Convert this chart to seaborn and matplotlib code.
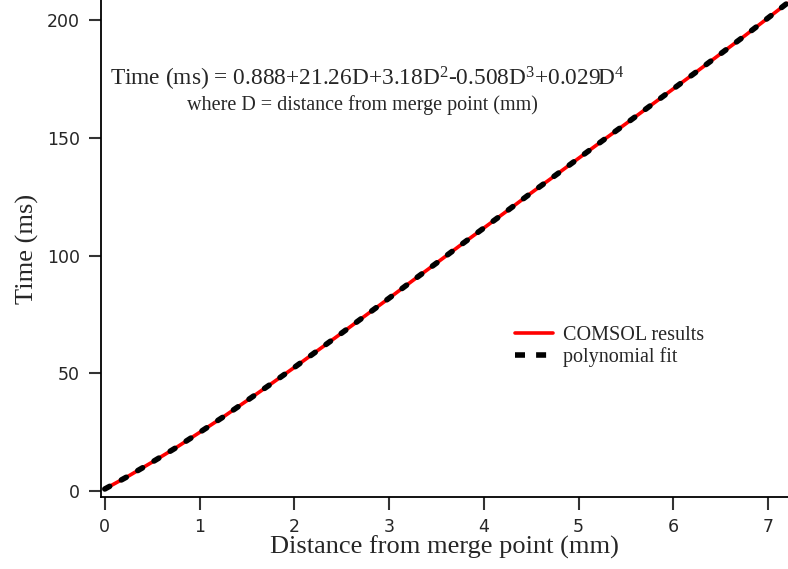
import matplotlib
matplotlib.use("Agg")
import matplotlib.pyplot as plt
import seaborn as sns
import pandas as pd

# values (distance in mm, time in ms)
distance_mm = [0.0, 0.25, 0.5, 0.75, 1.0, 1.25, 1.5, 1.75, 2.0, 2.25, 2.5, 2.75,
               3.0, 3.25, 3.5, 3.75, 4.0, 4.25, 4.5, 4.75, 5.0, 5.25, 5.5, 5.75,
               6.0, 6.25, 6.5, 6.75, 7.0, 7.2]
comsol_ms = [0.9, 6.4, 12.3, 18.4, 24.9, 31.5, 38.4, 45.4, 52.5, 59.8, 67.1, 74.5,
             81.9, 89.4, 96.8, 104.3, 111.7, 119.1, 126.6, 133.9, 141.3, 148.7, 156.0, 163.4,
             170.8, 178.2, 185.7, 193.2, 200.9, 207.1]
fit_ms = [0.9, 6.4, 12.3, 18.4, 24.9, 31.5, 38.4, 45.4, 52.5, 59.8, 67.1, 74.5,
          81.9, 89.4, 96.8, 104.3, 111.7, 119.1, 126.6, 133.9, 141.3, 148.7, 156.0, 163.4,
          170.8, 178.2, 185.7, 193.2, 200.9, 207.1]
x_ticks = [0, 1, 2, 3, 4, 5, 6, 7]
y_ticks = [0, 50, 100, 150, 200]

sns.set_style("ticks")
plt.rcParams["font.family"] = ["Liberation Serif", "DejaVu Serif"]
plt.rcParams["mathtext.fontset"] = "custom"
plt.rcParams["mathtext.rm"] = "Liberation Serif"
plt.rcParams["mathtext.it"] = "Liberation Serif:italic"

df = pd.DataFrame({"D": distance_mm, "comsol": comsol_ms, "fit": fit_ms})

W, H = 788, 569
fig = plt.figure(figsize=(W / 100, H / 100), dpi=100)
ax = fig.add_axes([101 / W, 72 / H, 1 - 101 / W, 1 - 72 / H])

sns.lineplot(data=df, x="D", y="comsol", ax=ax, color="#ff0000", lw=2.6,
             label="COMSOL results", zorder=2)
sns.lineplot(data=df, x="D", y="fit", ax=ax, color="black", lw=4,
             label="polynomial fit", zorder=3)
fit_line = ax.lines[1]
fit_line.set_dashes([1.0, 2.4])
fit_line.set_dash_capstyle("round")

ax.set_xlim(-0.04, 7.21)
ax.set_ylim(-2.5, 208.5)
ax.set_xticks(x_ticks)
ax.set_yticks(y_ticks)
for lab in ax.get_xticklabels() + ax.get_yticklabels():
    lab.set_fontfamily("DejaVu Sans")
    lab.set_fontsize(12.5)
ax.tick_params(direction="out", length=9, width=1.5, color="#333333", pad=6)
for s in ["top", "right"]:
    ax.spines[s].set_visible(False)
for s in ["left", "bottom"]:
    ax.spines[s].set_linewidth(1.3)
    ax.spines[s].set_color("black")

ax.set_xlabel("Distance from merge point (mm)", fontsize=19, labelpad=0)
ax.set_ylabel("Time (ms)", fontsize=19, labelpad=6)

fig.text(110 / W, 1 - 86 / H,
         "Time (ms) = 0.888+21.26D+3.18D$^2$-0.508D$^3$+0.029D$^4$",
         fontsize=16.8, va="baseline", ha="left")
fig.text(187 / W, 1 - 110 / H, "where D = distance from merge point (mm)",
         fontsize=14.5, va="baseline", ha="left")

leg = ax.legend(loc="upper left", bbox_to_anchor=(511 / W, 1 - 322 / H),
                bbox_transform=fig.transFigure, frameon=False, fontsize=14.5,
                handlelength=1.9, handletextpad=0.5, labelspacing=0.12,
                borderaxespad=0, borderpad=0.2)
leg_fit = leg.get_lines()[1]
leg_fit.set_dashes([1.8, 2.0])
leg_fit.set_dash_capstyle("butt")

fig.savefig("out.png", dpi=100)
